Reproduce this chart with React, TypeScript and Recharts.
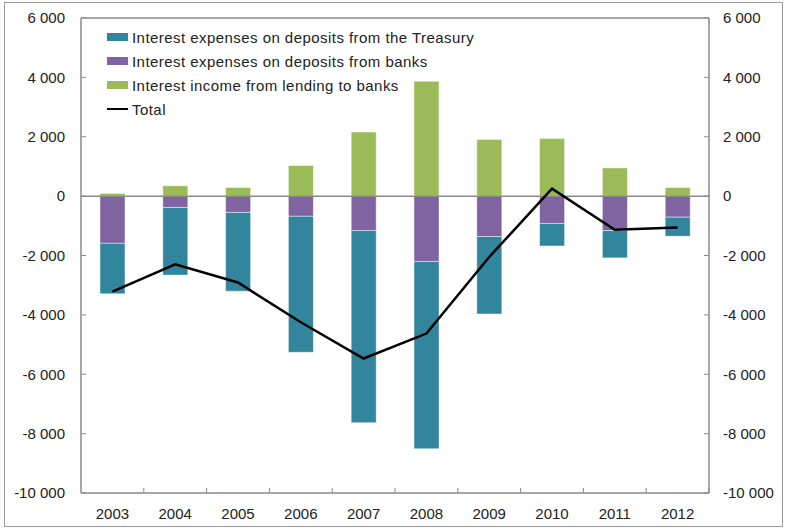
import React from 'react';
import {
  ComposedChart,
  Bar,
  Line,
  XAxis,
  YAxis,
  ReferenceLine,
} from 'recharts';

const years = ['2003', '2004', '2005', '2006', '2007', '2008', '2009', '2010', '2011', '2012'];
const treasury = [-1700, -2280, -2650, -4580, -6470, -6310, -2610, -760, -920, -640];
const banks = [-1590, -380, -550, -680, -1160, -2200, -1360, -920, -1160, -710];
const income = [90, 350, 290, 1030, 2160, 3870, 1910, 1940, 950, 290];
const total = [-3220, -2300, -2910, -4250, -5470, -4630, -2050, 250, -1130, -1060];
const yTicks = [-10000, -8000, -6000, -4000, -2000, 0, 2000, 4000, 6000];

const LABELS = {
  treasury: 'Interest expenses on deposits from the Treasury',
  banks: 'Interest expenses on deposits from banks',
  income: 'Interest income from lending to banks',
  total: 'Total',
};

const COLORS = {
  treasury: '#31859c',
  banks: '#8064a2',
  income: '#9bbb59',
  total: '#000000',
};

const FONT = "'Liberation Sans', Arial, sans-serif";
const TEXT = '#222222';
const AXIS = '#8a8a8a';

const W = 785;
const H = 530;
const MARGIN = { top: 18, right: 4, bottom: 4, left: 4 };
const LEFT_W = 77;
const RIGHT_W = 72;
const BAND = (W - MARGIN.left - MARGIN.right - LEFT_W - RIGHT_W) / years.length;

const data = years.map((year, i) => ({
  year,
  treasury: treasury[i],
  banks: banks[i],
  income: income[i],
  total: total[i],
}));

const fmt = (v: number) => {
  const s = Math.abs(v).toString().replace(/\B(?=(\d{3})+(?!\d))/g, ' ');
  return v < 0 ? `-${s}` : s;
};

const XTick = (props: any) => {
  const { x, y, payload } = props;
  const axisY = y - 15;
  return (
    <g>
      <line x1={x + BAND / 2} x2={x + BAND / 2} y1={axisY} y2={axisY - 5} stroke={AXIS} strokeWidth={1} />
      <text x={x} y={y} dy="0.71em" textAnchor="middle" fill={TEXT} fontSize={15} fontFamily={FONT}>
        {payload.value}
      </text>
    </g>
  );
};

const legendRows: { key: keyof typeof LABELS; line?: boolean }[] = [
  { key: 'treasury' },
  { key: 'banks' },
  { key: 'income' },
  { key: 'total', line: true },
];

// legend sits inside the plot, top-left, as in the source figure
const ChartLegend = () => (
  <div
    style={{
      position: 'absolute',
      left: 107,
      top: 25,
      fontFamily: FONT,
      fontSize: 15,
      letterSpacing: 0.45,
      color: TEXT,
      zIndex: 2,
    }}
  >
    {legendRows.map((r) => (
      <div key={r.key} style={{ display: 'flex', alignItems: 'center', height: 24 }}>
        <span
          style={{
            display: 'inline-block',
            width: 21,
            height: r.line ? 2.5 : 8,
            background: COLORS[r.key],
            marginRight: 4,
          }}
        />
        <span>{LABELS[r.key]}</span>
      </div>
    ))}
  </div>
);

export default function App() {
  return (
    <div style={{ position: 'absolute', left: 0, top: 0, width: W, height: H, background: '#fff' }}>
      <div
        style={{
          position: 'absolute',
          left: 4,
          top: 2,
          width: 779,
          height: 525,
          border: '1.5px solid #9a9a9a',
          boxSizing: 'border-box',
        }}
      />
      <ComposedChart
        width={W}
        height={H}
        data={data}
        margin={MARGIN}
        stackOffset="sign"
        barSize={25}
        style={{ position: 'absolute', left: 0, top: 0 }}
      >
        <XAxis
          dataKey="year"
          axisLine={{ stroke: AXIS, strokeWidth: 1.5 }}
          tickLine={false}
          tickSize={0}
          tickMargin={15}
          height={33}
          interval={0}
          tick={<XTick />}
        />
        <YAxis
          yAxisId="left"
          domain={[-10000, 6000]}
          ticks={yTicks}
          width={LEFT_W}
          tickSize={-5}
          tickMargin={21}
          tickFormatter={fmt}
          axisLine={{ stroke: AXIS, strokeWidth: 1.5 }}
          tickLine={{ stroke: AXIS }}
          tick={{ fill: TEXT, fontSize: 15, fontFamily: FONT }}
        />
        <YAxis
          yAxisId="right"
          orientation="right"
          domain={[-10000, 6000]}
          ticks={yTicks}
          width={RIGHT_W}
          tickSize={-5}
          tickMargin={19}
          tickFormatter={fmt}
          axisLine={{ stroke: AXIS, strokeWidth: 1.5 }}
          tickLine={{ stroke: AXIS }}
          tick={{ fill: TEXT, fontSize: 15, fontFamily: FONT }}
        />
        <ReferenceLine yAxisId="left" y={6000} stroke={AXIS} strokeWidth={1.5} />
        <Bar yAxisId="left" dataKey="banks" stackId="a" fill={COLORS.banks} stroke="rgba(255,255,255,0.45)" strokeWidth={1} isAnimationActive={false} />
        <Bar yAxisId="left" dataKey="treasury" stackId="a" fill={COLORS.treasury} stroke="rgba(255,255,255,0.45)" strokeWidth={1} isAnimationActive={false} />
        <Bar yAxisId="left" dataKey="income" stackId="a" fill={COLORS.income} stroke="rgba(255,255,255,0.45)" strokeWidth={1} isAnimationActive={false} />
        <ReferenceLine yAxisId="left" y={0} stroke={AXIS} strokeWidth={1.5} />
        <Line
          yAxisId="right"
          dataKey="total"
          stroke={COLORS.total}
          strokeWidth={2.5}
          dot={false}
          activeDot={false}
          type="linear"
          isAnimationActive={false}
        />
      </ComposedChart>
      <ChartLegend />
    </div>
  );
}
